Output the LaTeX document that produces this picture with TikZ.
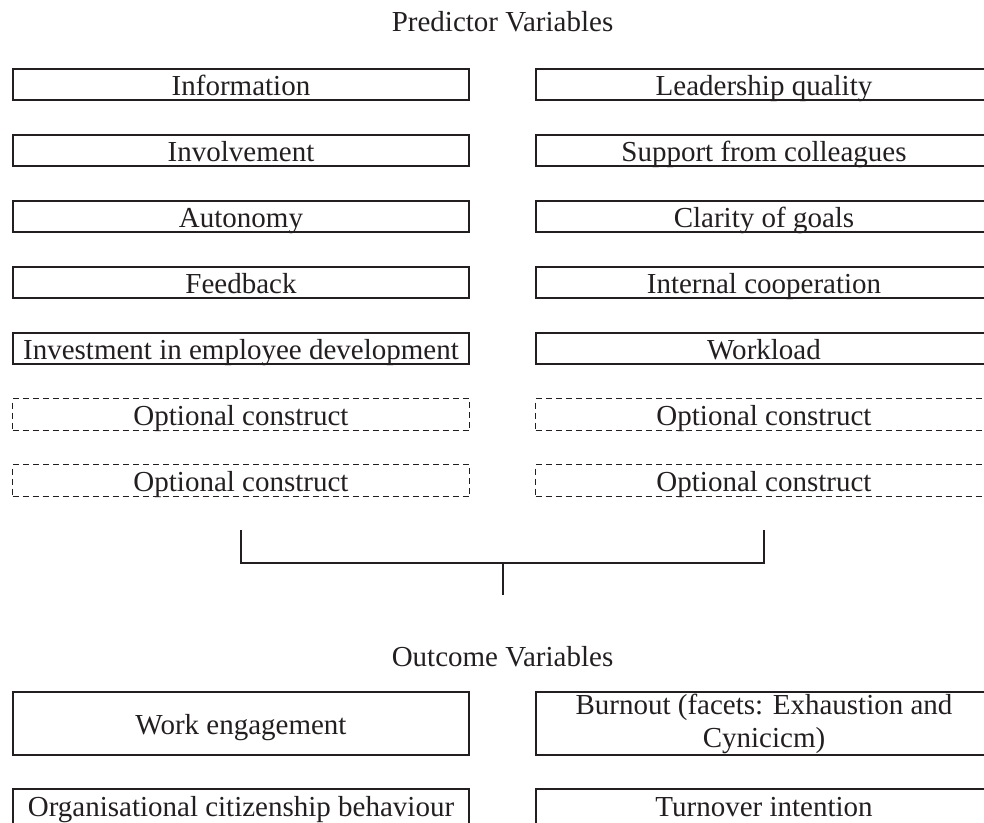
\documentclass[tikz,border=0pt]{standalone}
\usepackage{fontspec}
\setmainfont{Liberation Serif}
\usepackage{tikz}
\usetikzlibrary{positioning}
\definecolor{ink}{RGB}{35,31,32}
\tikzset{
    heading/.style={
                anchor=base,
                text=ink,
                font=\fontsize{29}{33}\selectfont
            },
        construct/.style={
                draw=ink,
                line width=2pt,
                text=ink,
                minimum width=456pt,
                minimum height=31pt,
                inner sep=2pt,
                text height=21pt,
                text depth=0pt,
                font=\fontsize{29}{33}\selectfont
            },
        optional/.style={
                construct,
                line width=1pt,
                dash pattern=on 6pt off 4pt,
                minimum width=457pt,
                minimum height=32pt
            },
        outcome/.style={
                construct,
                minimum height=63pt
            },
        lastrow/.style={
                construct,
                minimum height=38pt,
                text depth=5pt
            },
        link/.style={draw=ink, line width=2pt},
}

\begin{document}
\begin{tikzpicture}[x=1pt, y=-1pt, node distance=33pt and 65pt]
  \path[use as bounding box, clip] (0,0) rectangle (984,822);
  % Predictor variables
  \node[heading] (pred) at (502.5,31) {Predictor Variables};
  \node[construct] (info) at (241,84.5) {Information};
  \node[construct, below=of info] (invol) {Involvement};
  \node[construct, below=of invol] (auto) {Autonomy};
  \node[construct, below=of auto] (feed) {Feedback};
  \node[construct, below=of feed] (invest) {Investment in employee development};
  \node[optional, below=of invest] (optl1) {Optional construct};
  \node[optional, below=of optl1] (optl2) {Optional construct};
  \node[construct, right=of info] (lead) {Leadership quality};
  \node[construct, right=of invol] (support) {Support from colleagues};
  \node[construct, right=of auto] (goals) {Clarity of goals};
  \node[construct, right=of feed] (coop) {Internal cooperation};
  \node[construct, right=of invest] (load) {Workload};
  \node[optional, right=of optl1] (optr1) {Optional construct};
  \node[optional, right=of optl2] (optr2) {Optional construct};
  % Bracket joining both columns
  \coordinate[below=33pt of optl2] (jl);
  \coordinate[below=33pt of optr2] (jr);
  \coordinate (jc) at (502.5,563);
  \coordinate[below=32pt of jc] (stem);
  \draw[link] (jl) |- (jc) -| (jr);
  \draw[link] (jc) -- (stem);
  % Outcome variables
  \node[heading] (outc) at (502.5,666) {Outcome Variables};
  \node[outcome] (engage) at (241,723.5) {Work engagement};
  \node[outcome, right=of engage, align=center, text height=, text depth=] (burn) {Burnout (facets: Exhaustion and\\Cynicicm)};
  \node[lastrow, below=32pt of engage] (ocb) {Organisational citizenship behaviour};
  \node[lastrow, right=of ocb] (turn) {Turnover intention};
\end{tikzpicture}
\end{document}
